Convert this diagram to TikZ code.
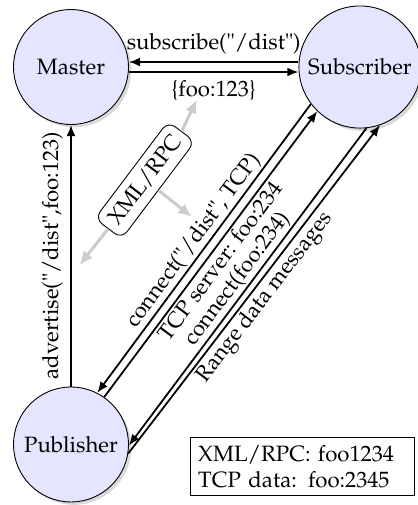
\documentclass[tikz,border=0pt]{standalone}
\usepackage[T1]{fontenc}
\usepackage{mathpazo}
\usepackage{tikz}
\usetikzlibrary{arrows.meta,positioning,shadows}

\begin{document}
\begin{tikzpicture}[>={Latex[length=5pt,width=4pt]}, on grid,
  peer/.style={circle, draw, fill=blue!10, minimum size=1.82cm,
    drop shadow={shadow xshift=1.3pt, shadow yshift=-1.3pt, opacity=0.3}},
  msg/.style={->, thick},
  tag/.style={sloped, inner sep=0.8pt},
  hint/.style={-{Latex[length=6pt,width=5.5pt]}, line width=1.4pt, black!20},
  rpc/.style={draw, rounded corners=4pt, fill=white, rotate=53}]
  \useasboundingbox (-1.124,-6.934) rectangle (5.478,1.061);
  \node[peer] (mas) {Master};
  \node[peer] (sub) [right=4.575cm of mas] {Subscriber};
  \node[peer] (pub) [below=5.976cm of mas] {Publisher};
  % master <-> subscriber
  \draw[msg] ([yshift=2.25pt]sub.west) -- node[above]{subscribe("/dist")} ([yshift=2.25pt]mas.east);
  \draw[msg] ([yshift=-2.25pt]mas.east) -- node[below] (foo) {\{foo:123\}} ([yshift=-2.25pt]sub.west);
  \draw[msg] (pub) -- node[above,sloped]{advertise("/dist",foo:123)} (mas);
  % publisher <-> subscriber
  \draw[msg,<-] (pub.63) -- node[above,tag]{connect("/dist", TCP)} (sub.217);
  \draw[msg] (pub.55) -- node[below,tag]{TCP server: foo:234} (sub.226);
  \draw[msg,<-] (pub.-1) -- node[above,tag]{connect(foo:234)} (sub.276);
  \draw[msg] (pub.-9) -- node[below,tag]{Range data messages} (sub.289);
  % xml/rpc hints
  \node[rpc] (rpc) at (1.17,-1.79) {XML/RPC};
  \coordinate (t1) at (1.99,-0.52);
  \coordinate (t2) at (1.91,-2.37);
  \coordinate (t3) at (0.14,-3.13);
  \draw[hint] (rpc.east) -- (t1);
  \draw[hint] (rpc.south) -- (t2);
  \draw[hint] (rpc.west) -- (t3);
  \node[draw, align=left, text width=3.3cm, anchor=south east] (key) at (5.438,-6.792)
    {XML/RPC: foo1234\\TCP data: foo:2345};
\end{tikzpicture}
\end{document}
